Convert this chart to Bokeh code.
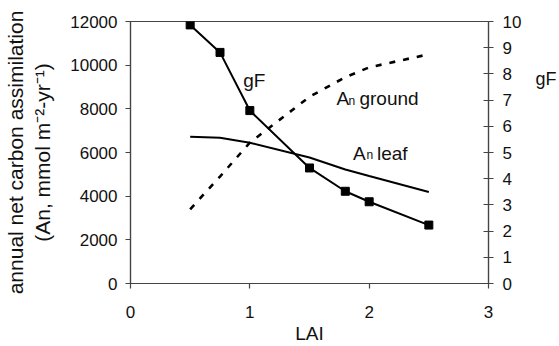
from bokeh.plotting import figure
from bokeh.models import Range1d, LinearAxis, FixedTicker, Label, ColumnDataSource
from bokeh.embed import file_html
from bokeh.resources import INLINE

# ---- data ----
LAI = [0.5, 0.75, 1.0, 1.5, 1.8, 2.0, 2.5]
gF = [9.87, 8.82, 6.60, 4.41, 3.52, 3.12, 2.23]
An_leaf = [6720, 6680, 6450, 5770, 5220, 4920, 4190]
An_ground = [3400, 4900, 6450, 8550, 9450, 9900, 10500]

x_ticks = [0, 1, 2, 3]
left_ticks = [0, 2000, 4000, 6000, 8000, 10000, 12000]
right_ticks = [0, 1, 2, 3, 4, 5, 6, 7, 8, 9, 10]
right_title = "gF"
right_title_level = 7.8

FONT = "Liberation Sans"
AX = "#444444"
TXT = "#111111"

src = ColumnDataSource(dict(LAI=LAI, gF=gF, leaf=An_leaf, ground=An_ground))

p = figure(width=559, height=346, output_backend="svg", toolbar_location=None,
           x_range=Range1d(0, 3), y_range=Range1d(0, 12000),
           min_border_left=127, min_border_right=69, min_border_top=21, min_border_bottom=63)
p.extra_y_ranges = {"gf": Range1d(0, 10)}

p.xgrid.visible = False
p.ygrid.visible = False
p.outline_line_color = AX
p.outline_line_width = 1.2
p.background_fill_color = "white"
p.border_fill_color = "white"

# lines
p.line("LAI", "leaf", source=src, line_color="black", line_width=2)
p.line("LAI", "ground", source=src, line_color="black", line_width=2.6, line_dash="6 8")
p.line("LAI", "gF", source=src, y_range_name="gf", line_color="black", line_width=2)
p.scatter("LAI", "gF", source=src, y_range_name="gf", marker="square", size=8,
          fill_color="black", line_color="black")

# axes styling
def style_axis(ax):
    ax.axis_line_color = AX
    ax.axis_line_width = 1.2
    ax.major_tick_line_color = AX
    ax.major_tick_line_width = 1.2
    ax.minor_tick_line_color = None
    ax.major_label_text_font = FONT
    ax.major_label_text_font_size = "17px"
    ax.major_label_text_color = TXT
    ax.axis_label_text_font = FONT
    ax.axis_label_text_font_size = "19px"
    ax.axis_label_text_font_style = "normal"
    ax.axis_label_text_color = TXT

xa = p.xaxis[0]
style_axis(xa)
xa.ticker = FixedTicker(ticks=x_ticks)
xa.major_tick_in = 0
xa.major_tick_out = 5
xa.major_label_standoff = 17
xa.axis_label = "LAI"
xa.axis_label_standoff = 2

ya = p.yaxis[0]
style_axis(ya)
ya.ticker = FixedTicker(ticks=left_ticks)
ya.major_tick_in = 0
ya.major_tick_out = 5
ya.major_label_standoff = 8
ya.axis_label = "annual net carbon assimilation\n(An, mmol m\u207b\u00b2-yr\u207b\u00b9)"
ya.axis_label_text_font_size = "21px"
ya.axis_label_standoff = 13

ra = LinearAxis(y_range_name="gf")
style_axis(ra)
ra.ticker = FixedTicker(ticks=right_ticks)
ra.major_tick_in = 5
ra.major_tick_out = 5
ra.major_label_standoff = 9
p.add_layout(ra, "right")

# horizontal right-side title "gF" drawn as a lone tick label of a bare axis
rt = LinearAxis(y_range_name="gf")
rt.ticker = FixedTicker(ticks=[right_title_level])
rt.major_label_overrides = {right_title_level: right_title}
rt.axis_line_color = None
rt.major_tick_line_color = None
rt.minor_tick_line_color = None
rt.major_tick_in = 0
rt.major_tick_out = 0
rt.major_label_standoff = 11
rt.major_label_text_font = FONT
rt.major_label_text_font_size = "18px"
rt.major_label_text_color = TXT
p.add_layout(rt, "right")

def lab(text, x, y, size="19px", rng="default", dx=0):
    p.add_layout(Label(x=x, y=y, text=text, text_font=FONT, text_font_size=size,
                       text_color=TXT, text_baseline="alphabetic", x_offset=dx,
                       y_range_name=rng))

lab("gF", 0.945, 9300)
# A_n ground
lab("A", 1.726, 8458)
lab("n", 1.726, 8366, size="12px", dx=12)
lab("ground", 1.726, 8458, dx=23)
# A_n leaf
lab("A", 1.864, 5966)
lab("n", 1.864, 5866, size="12px", dx=13.5)
lab("leaf", 1.864, 5966, dx=24)

open("out.html", "w").write(file_html(p, INLINE))
